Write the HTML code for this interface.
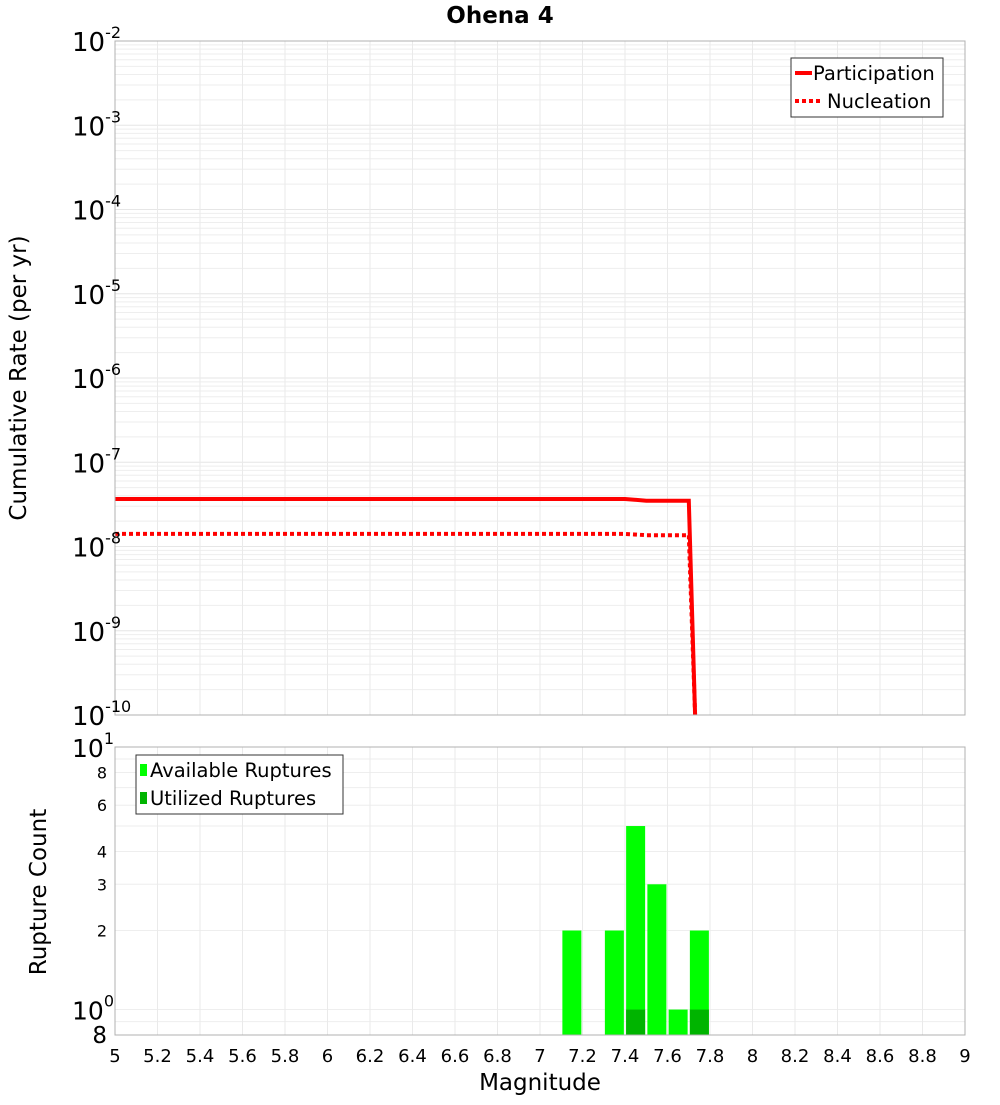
<!DOCTYPE html>
<html><head><meta charset="utf-8"><style>
body{margin:0;background:#fff;font-family:"Liberation Sans","DejaVu Sans",sans-serif}
svg text{font-family:"DejaVu Sans","Liberation Sans",sans-serif}
</style></head><body>
<svg id="c" width="1000" height="1100" xmlns="http://www.w3.org/2000/svg"></svg>
<script>
const xTicks=[5,5.2,5.4,5.6,5.8,6,6.2,6.4,6.6,6.8,7,7.2,7.4,7.6,7.8,8,8.2,8.4,8.6,8.8,9];
const xTickLabels=["5","5.2","5.4","5.6","5.8","6","6.2","6.4","6.6","6.8","7","7.2","7.4","7.6","7.8","8","8.2","8.4","8.6","8.8","9"];
const partMags=[5,7.4,7.5,7.7,7.73];
const partRates=[3.66e-8,3.66e-8,3.5e-8,3.5e-8,1e-10];
const nuclMags=[5,7.4,7.5,7.7,7.73];
const nuclRates=[1.41e-8,1.41e-8,1.36e-8,1.36e-8,1e-10];
const binMags=[7.15,7.35,7.45,7.55,7.65,7.75];
const availCounts=[2,2,5,3,1,2];
const usedCounts=[0,0,1,0,0,1];
const topExps=[-2,-3,-4,-5,-6,-7,-8,-9,-10];

const S=document.getElementById('c');const NS='http://www.w3.org/2000/svg';
function el(t,a,p){const e=document.createElementNS(NS,t);for(const k in a)e.setAttribute(k,a[k]);(p||S).appendChild(e);return e;}
const X0=115,X1=965;
const xs=m=>X0+(m-5)/4*(X1-X0);
const T0=41,T1=715;
const ys=r=>T0+(-2-Math.log10(r))/8*(T1-T0);
const B0=747,B1=1035;
const yb=c=>B0+(1-Math.log10(c))/(1-Math.log10(0.8))*(B1-B0);

for(let d=-10;d<-2;d++)for(let k=1;k<10;k++){const y=ys(k*Math.pow(10,d));
 const g=el('line',{x1:X0,x2:X1,y1:y,y2:y,stroke:k==1?'#e6e6e6':'#eeeeee','stroke-width':1});
 }
[0.8,0.9,1,2,3,4,5,6,7,8,9].forEach(c=>{const y=yb(c);const g=el('line',{x1:X0,x2:X1,y1:y,y2:y,stroke:'#eeeeee'});
 });
xTicks.forEach(m=>{[[T0,T1],[B0,B1]].forEach(r=>{const g=el('line',{x1:xs(m),x2:xs(m),y1:r[0],y2:r[1],stroke:'#eaeaea'});
 });});

function path(ms,rs){return ms.map((m,i)=>(i?'L':'M')+xs(m).toFixed(1)+','+Math.min(ys(rs[i]),T1).toFixed(1)).join('');}
let p=el('path',{d:path(partMags,partRates),fill:'none',stroke:'#ff0000','stroke-width':4});

p=el('path',{d:path(nuclMags,nuclRates),fill:'none',stroke:'#ff0000','stroke-width':4,'stroke-dasharray':'4,3'});


binMags.forEach((m,i)=>{const x=xs(m)-9.5;
 let b=el('rect',{x:x,y:yb(availCounts[i]),width:19,height:B1-yb(availCounts[i]),fill:'#00ff00'});
 
 if(usedCounts[i]>0){b=el('rect',{x:x,y:yb(usedCounts[i]),width:19,height:B1-yb(usedCounts[i]),fill:'#00b400'});
 }});

let f=el('rect',{x:X0,y:T0,width:X1-X0,height:T1-T0,fill:'none',stroke:'#b0b0b0'});
f=el('rect',{x:X0,y:B0,width:X1-X0,height:B1-B0,fill:'none',stroke:'#b0b0b0'});

function txt(x,y,s,a,name){const t=el('text',Object.assign({x:x,y:y},a));t.textContent=s;return t;}
topExps.forEach(e=>{const y=ys(Math.pow(10,e));const t=txt(72,y+10,'10',{'font-size':26,fill:'#000'},'y-tick-label');
 const s=el('tspan',{dy:-13,'font-size':16},t);s.textContent=String(e);});
const bl=[[10,'10',1],[8,'8'],[6,'6'],[4,'4'],[3,'3'],[2,'2'],[1,'10',0],[0.8,'8']];
bl.forEach(b=>{const y=yb(b[0]);
 if(b.length>2){const t=txt(72,y+10,b[1],{'font-size':25},'y-tick-label');const s=el('tspan',{dy:-13,'font-size':16},t);s.textContent=String(b[2]);}
 else if(b[0]==0.8){txt(107,y+8,b[1],{'font-size':23,'text-anchor':'end'},'y-tick-label');}
 else txt(107,y+6,b[1],{'font-size':16,'text-anchor':'end'},'y-tick-label');});
xTicks.forEach((m,i)=>txt(xs(m),1062,xTickLabels[i],{'font-size':18,'text-anchor':'middle'},'x-tick-label'));
txt(540,1090,'Magnitude',{'font-size':23,'text-anchor':'middle'},'x-axis-title');
txt(500,23,'Ohena 4',{'font-size':23,'font-weight':'bold','text-anchor':'middle'},'chart-title');
txt(0,0,'Cumulative Rate (per yr)',{'font-size':23,'text-anchor':'middle',transform:'translate(26,378) rotate(-90)'},'y-axis-title-top');
txt(0,0,'Rupture Count',{'font-size':23,'text-anchor':'middle',transform:'translate(46,892) rotate(-90)'},'y-axis-title-bottom');

f=el('rect',{x:791,y:58,width:152,height:59,fill:'#fff',stroke:'#333'});
let l=el('line',{x1:795,x2:812,y1:73,y2:73,stroke:'#f00','stroke-width':4});
txt(813,80,'Participation',{'font-size':19.5},'legend-participation');
l=el('line',{x1:795,x2:820,y1:101,y2:101,stroke:'#f00','stroke-width':4,'stroke-dasharray':'4,3'});
txt(827,108,'Nucleation',{'font-size':19.5},'legend-nucleation');
f=el('rect',{x:136,y:755,width:207,height:59,fill:'#fff',stroke:'#333'});
l=el('rect',{x:140,y:764,width:7,height:12,fill:'#00ff00'});
txt(150,777,'Available Ruptures',{'font-size':19.5},'legend-available');
l=el('rect',{x:140,y:792,width:7,height:12,fill:'#00b400'});
txt(150,805,'Utilized Ruptures',{'font-size':19.5},'legend-utilized');
</script>
</body></html>
